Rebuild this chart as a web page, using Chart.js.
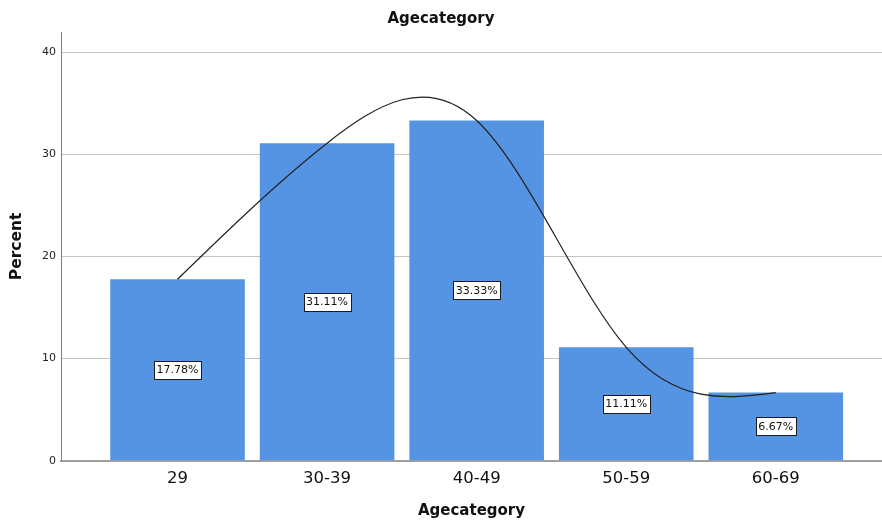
<!DOCTYPE html>
<html><head><meta charset="utf-8">
<script src="https://cdn.jsdelivr.net/npm/chart.js@4/dist/chart.umd.min.js"></script>
<style>html,body{margin:0;padding:0;background:#fff}#wrap{width:882px;height:522px}</style>
</head><body><div id="wrap"><canvas id="c" width="882" height="522"></canvas></div>
<script>
const categories = ['29', '30-39', '40-49', '50-59', '60-69'];
const percentValues = [17.78, 31.11, 33.33, 11.11, 6.67];
const yTickValues = [0, 10, 20, 30, 40];
const chartTitle = 'Agecategory';
const xAxisTitle = 'Agecategory';
const yAxisTitle = 'Percent';

const FONT = '"DejaVu Sans", "Liberation Sans", sans-serif';
const barPoints = percentValues.map((v, i) => ({x: i, y: v}));
const curvePoints = percentValues.map((v, i) => ({x: i, y: v}));

// Natural cubic spline second derivatives through the bar tops (unit spacing)
function naturalSplineM(y) {
  const n = y.length, M = new Array(n).fill(0);
  if (n < 3) return M;
  const a = [], b = [], c = [], d = [];
  for (let i = 1; i < n - 1; i++) {
    a.push(1); b.push(4); c.push(1);
    d.push(6 * (y[i + 1] - 2 * y[i] + y[i - 1]));
  }
  const m = d.length;
  for (let i = 1; i < m; i++) {
    const w = a[i] / b[i - 1];
    b[i] -= w * c[i - 1];
    d[i] -= w * d[i - 1];
  }
  const sol = new Array(m);
  sol[m - 1] = d[m - 1] / b[m - 1];
  for (let i = m - 2; i >= 0; i--) sol[i] = (d[i] - c[i] * sol[i + 1]) / b[i];
  for (let i = 0; i < m; i++) M[i + 1] = sol[i];
  return M;
}

const splinePlugin = {
  id: 'naturalSpline',
  beforeDatasetDraw(chart, args) {
    if (args.index !== 1) return;
    const meta = args.meta, line = meta.dataset;
    line.updateControlPoints(chart.chartArea, 'x');
    const xs = chart.scales.x, ys = chart.scales.y;
    const y = percentValues, M = naturalSplineM(y);
    const pts = meta.data;
    for (let i = 0; i < y.length - 1; i++) {
      const dy = y[i + 1] - y[i];
      const s0 = dy - (2 * M[i] + M[i + 1]) / 6;
      const s1 = dy + (M[i] + 2 * M[i + 1]) / 6;
      pts[i].cp2x = xs.getPixelForValue(i + 1 / 3);
      pts[i].cp2y = ys.getPixelForValue(y[i] + s0 / 3);
      pts[i + 1].cp1x = xs.getPixelForValue(i + 1 - 1 / 3);
      pts[i + 1].cp1y = ys.getPixelForValue(y[i + 1] - s1 / 3);
    }
    line._path = undefined;
  }
};

const labelPlugin = {
  id: 'barLabels',
  afterDatasetsDraw(chart) {
    const meta = chart.getDatasetMeta(0);
    const ctx = chart.ctx;
    ctx.save();
    ctx.font = '11px ' + FONT;
    ctx.textAlign = 'center';
    ctx.textBaseline = 'middle';
    meta.data.forEach((bar, i) => {
      const txt = percentValues[i].toFixed(2) + '%';
      const cx = bar.x, cy = (bar.y + bar.base) / 2;
      const w = Math.round(ctx.measureText(txt).width + 5), h = 18;
      const x0 = Math.round(cx - w / 2) + 0.5, y0 = Math.round(cy - h / 2) + 0.5;
      ctx.fillStyle = '#ffffff';
      ctx.fillRect(x0, y0, w, h);
      ctx.strokeStyle = '#1a1a1a';
      ctx.lineWidth = 1;
      ctx.strokeRect(x0, y0, w, h);
      ctx.fillStyle = '#111';
      ctx.fillText(txt, cx, cy + 0.5);
    });
    ctx.restore();
  }
};

new Chart(document.getElementById('c'), {
  type: 'bar',
  data: {
    datasets: [
      {
        type: 'bar',
        data: barPoints,
        backgroundColor: '#5594e2',
        borderWidth: 0,
        barPercentage: 0.9,
        categoryPercentage: 1.0,
        order: 2
      },
      {
        type: 'line',
        data: curvePoints,
        borderColor: '#222222',
        borderWidth: 1.2,
        pointRadius: 0,
        fill: false,
        tension: 0.4,
        order: 1
      }
    ]
  },
  options: {
    responsive: false,
    devicePixelRatio: 1,
    animation: false,
    layout: {padding: 0},
    plugins: {
      legend: {display: false},
      tooltip: {enabled: false},
      title: {
        display: true,
        text: chartTitle,
        color: '#111',
        font: {family: FONT, size: 15, weight: 'bold'},
        padding: {top: 10, bottom: 4}
      }
    },
    scales: {
      x: {
        type: 'linear',
        offset: false,
        min: -0.779,
        max: 4.71,
        afterBuildTicks(scale) { scale.ticks = categories.map((c, i) => ({value: i})); },
        afterFit(scale) { scale.height = 61.3; },
        grid: {display: false, drawTicks: false, offset: false},
        border: {display: true, color: '#a0a0a0', width: 2},
        ticks: {
          autoSkip: false, maxRotation: 0, padding: 8, color: '#111',
          font: {family: FONT, size: 16.5},
          callback: (v) => categories[Math.round(v)]
        },
        title: {
          display: true, text: xAxisTitle, color: '#111',
          font: {family: FONT, size: 15, weight: 'bold'},
          padding: {top: 0, bottom: 2}
        }
      },
      y: {
        min: 0,
        max: 42,
        afterBuildTicks(scale) { scale.ticks = yTickValues.map(v => ({value: v})); },
        afterFit(scale) { scale.width = 61; },
        grid: {color: '#c4c4c4', lineWidth: 1, drawTicks: false},
        border: {display: true, color: '#808080', width: 1},
        ticks: {padding: 5, color: '#222', font: {family: FONT, size: 11}},
        title: {
          display: true, text: yAxisTitle, color: '#111',
          font: {family: FONT, size: 15.5, weight: 'bold'},
          padding: {top: 8, bottom: 0}
        }
      }
    }
  },
  plugins: [splinePlugin, labelPlugin]
});
</script>
</body></html>
